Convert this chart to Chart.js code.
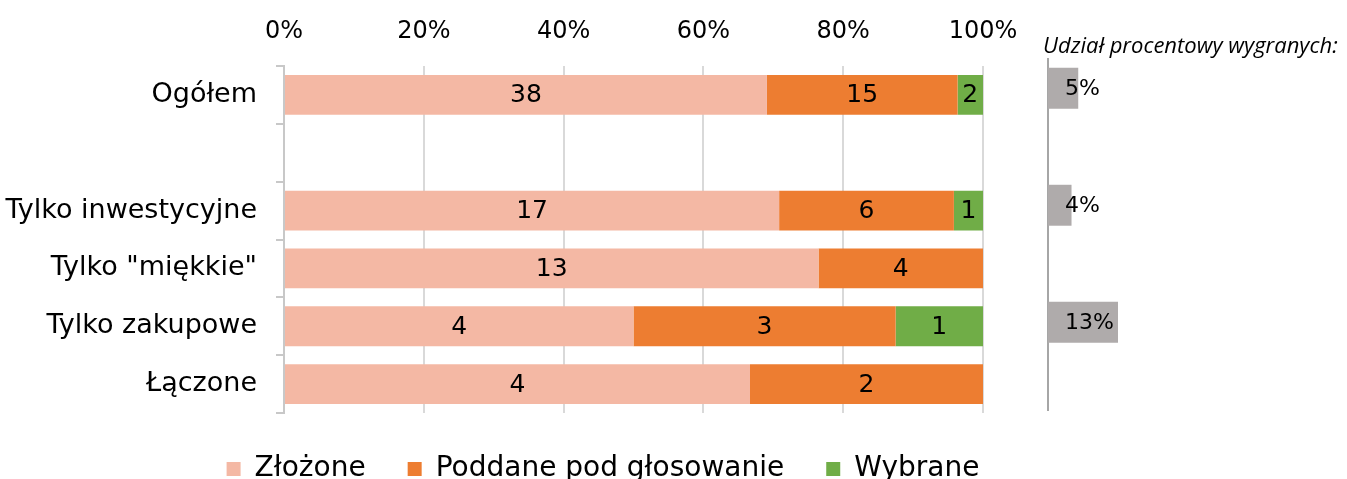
<!DOCTYPE html>
<html>
<head>
<meta charset="utf-8">
<script src="https://cdn.jsdelivr.net/npm/chart.js@4.4.1/dist/chart.umd.min.js"></script>
<style>
  html, body { margin: 0; padding: 0; background: #fff; }
  #wrap { position: relative; width: 1347px; height: 479px; overflow: hidden; }
  #mainBox { position: absolute; left: 0; top: 0; width: 1206px; height: 500px; }
  #sideBox { position: absolute; left: 1038px; top: 0; width: 309px; height: 479px; }
  #sideTitle {
    position: absolute; left: 1043px; top: 29px;
    font: italic 22px "Open Sans", sans-serif; color: #000; white-space: nowrap;
  }
</style>
</head>
<body>
<div id="wrap">
  <div id="mainBox"><canvas id="main_chart"></canvas></div>
  <div id="sideBox"><canvas id="side_chart"></canvas></div>
  <div id="sideTitle">Udział procentowy wygranych:</div>
</div>
<script>
const FONT = 'DejaVu Sans';

const categories = ['Ogółem', '', 'Tylko inwestycyjne', 'Tylko "miękkie"', 'Tylko zakupowe', 'Łączone'];
const zlozone = [38, null, 17, 13, 4, 4];
const poddane = [15, null, 6, 4, 3, 2];
const wybrane = [2, null, 1, 0, 1, 0];
const seriesNames = ['Złożone', 'Poddane pod głosowanie', 'Wybrane'];
const xTicks = [0, 20, 40, 60, 80, 100];

// share of winners, per row (percent)
const udzialWygranych = [5.4, null, 4.2, null, 12.5, null];

const totals = zlozone.map((v, i) => v === null ? null : v + poddane[i] + wybrane[i]);
const toShare = arr => arr.map((v, i) => v === null ? null : v / totals[i] * 100);

const valueLabels = {
    id: 'valueLabels',
    afterDatasetsDraw(chart) {
        const ctx = chart.ctx;
        ctx.save();
        ctx.font = '25px "' + FONT + '"';
        ctx.fillStyle = '#000';
        ctx.textAlign = 'center';
        ctx.textBaseline = 'middle';
        chart.data.datasets.forEach((ds, i) => {
            chart.getDatasetMeta(i).data.forEach((bar, j) => {
                const v = ds.counts[j];
                if (!v) return;
                const p = bar.getProps(['x', 'y', 'base'], true);
                ctx.fillText(String(v), (p.x + p.base) / 2, p.y + 1);
            });
        });
        ctx.restore();
    }
};

new Chart(document.getElementById('main_chart'), {
    type: 'bar',
    data: {
        labels: categories,
        datasets: [
            { label: seriesNames[0], data: toShare(zlozone), counts: zlozone, backgroundColor: '#F4B8A4' },
            { label: seriesNames[1], data: toShare(poddane), counts: poddane, backgroundColor: '#ED7D31' },
            { label: seriesNames[2], data: toShare(wybrane), counts: wybrane, backgroundColor: '#70AD47' }
        ]
    },
    options: {
        indexAxis: 'y',
        responsive: true,
        maintainAspectRatio: false,
        animation: false,
        layout: { padding: { left: 0, right: 0, top: 0, bottom: 7 } },
        datasets: { bar: { categoryPercentage: 1, barPercentage: 0.69 } },
        scales: {
            x: {
                position: 'top',
                stacked: true,
                min: 0,
                max: 100,
                afterBuildTicks: s => { s.ticks = xTicks.map(v => ({ value: v })); },
                afterFit: s => { s.height = 66; },
                ticks: {
                    color: '#000',
                    padding: 20,
                    font: { family: FONT, size: 24 },
                    callback: v => v + '%'
                },
                grid: { color: '#d9d9d9', lineWidth: 2, drawTicks: false },
                border: { display: false }
            },
            y: {
                stacked: true,
                afterFit: s => { s.width = 284; },
                ticks: { color: '#000', padding: 19, font: { family: FONT, size: 27 } },
                grid: { drawOnChartArea: false, tickLength: 8, color: '#c8c8c8', lineWidth: 2 },
                border: { color: '#c8c8c8', width: 2 }
            },
            // empty right-hand axis: keeps room for the side chart so the legend centres like the original
            yRight: {
                position: 'right',
                afterFit: s => { s.width = 223; },
                ticks: { display: false },
                grid: { display: false },
                border: { display: false }
            }
        },
        plugins: {
            legend: {
                position: 'bottom',
                labels: {
                    color: '#000',
                    boxWidth: 14,
                    boxHeight: 14,
                    padding: 42,
                    font: { family: FONT, size: 28 }
                }
            },
            tooltip: { enabled: false }
        }
    },
    plugins: [valueLabels]
});

const shareLabels = {
    id: 'shareLabels',
    afterDatasetsDraw(chart) {
        const ctx = chart.ctx;
        ctx.save();
        ctx.font = '22px "' + FONT + '"';
        ctx.fillStyle = '#000';
        ctx.textAlign = 'left';
        ctx.textBaseline = 'middle';
        chart.getDatasetMeta(0).data.forEach((bar, j) => {
            const v = udzialWygranych[j];
            if (v === null) return;
            const p = bar.getProps(['y', 'base'], true);
            ctx.fillText(Math.round(v) + '%', p.base + 17, p.y + 1);
        });
        ctx.restore();
    }
};

new Chart(document.getElementById('side_chart'), {
    type: 'bar',
    data: {
        labels: categories,
        datasets: [{ data: udzialWygranych, backgroundColor: '#AFABAB' }]
    },
    options: {
        indexAxis: 'y',
        responsive: true,
        maintainAspectRatio: false,
        animation: false,
        layout: { padding: { left: 10, right: 19, top: 59, bottom: 69 } },
        datasets: { bar: { categoryPercentage: 1, barPercentage: 0.7 } },
        scales: {
            x: { display: false, min: 0, max: 50 },
            y: {
                afterFit: s => { s.width = 0; },
                ticks: { display: false },
                grid: { display: false },
                border: { color: '#a6a6a6', width: 2 }
            }
        },
        plugins: { legend: { display: false }, tooltip: { enabled: false } }
    },
    plugins: [shareLabels]
});
</script>
</body>
</html>
